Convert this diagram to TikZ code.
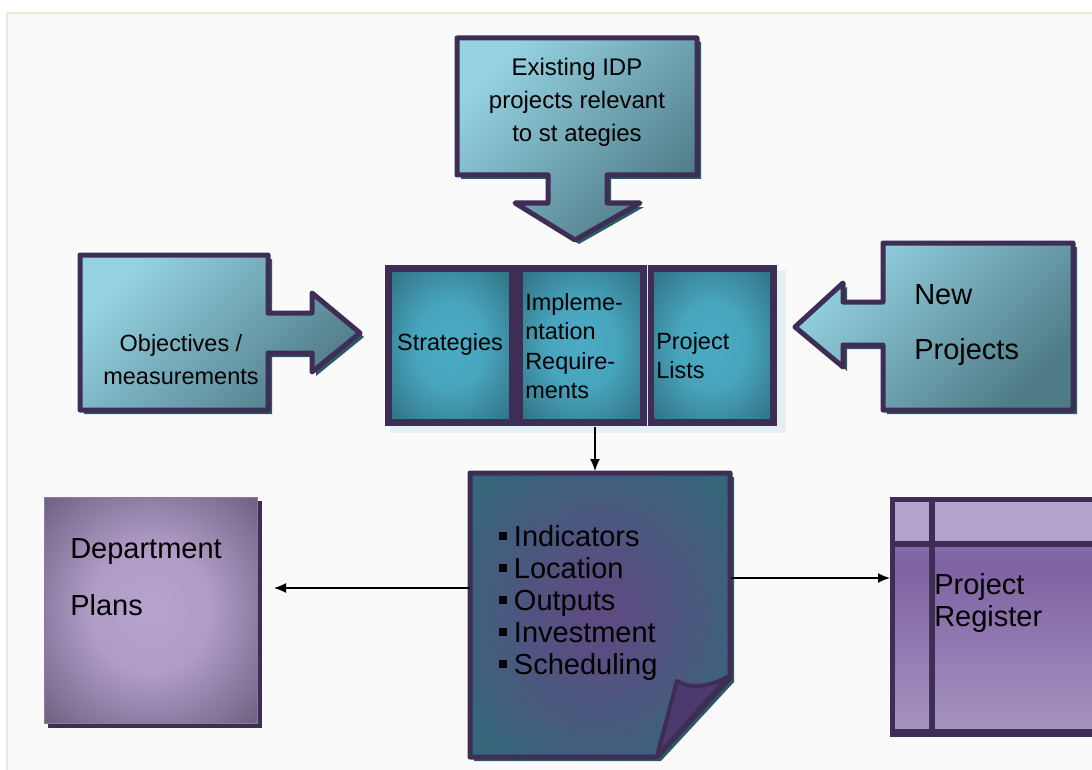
\documentclass[tikz,border=0pt]{standalone}
\usepackage{fontspec}
\setmainfont{Liberation Sans}
\usetikzlibrary{arrows.meta}
\definecolor{dpur}{HTML}{3E2D55}
\definecolor{arwL}{HTML}{95D2E2}
\definecolor{arwD}{HTML}{4F7B87}
\definecolor{shT}{HTML}{2B5A66}
\definecolor{cbIn}{HTML}{4AAAC4}
\definecolor{cbOut}{HTML}{2C6878}
\definecolor{dpIn}{HTML}{B5A2CE}
\definecolor{dpOut}{HTML}{6A5C7C}
\definecolor{docIn}{HTML}{5F4A82}
\definecolor{docOut}{HTML}{2F6A7A}
\definecolor{foldc}{HTML}{4C3A6E}
\definecolor{regL}{HTML}{B3A3CB}
\definecolor{regD}{HTML}{7E62A2}
\definecolor{frm}{HTML}{E6EBD8}
\definecolor{pale}{HTML}{E4EFF4}
\pgfdeclareradialshading[cbIn,cbOut]{pillowC}{\pgfpoint{0bp}{0bp}}{color(0bp)=(cbIn); color(14bp)=(cbIn!92!cbOut); color(38bp)=(cbOut); color(50bp)=(cbOut)}
\pgfdeclareradialshading[dpIn,dpOut]{pillowD}{\pgfpoint{0bp}{0bp}}{color(0bp)=(dpIn); color(14bp)=(dpIn!92!dpOut); color(37bp)=(dpOut); color(50bp)=(dpOut)}
\pgfdeclareradialshading[docIn,docOut]{pillowP}{\pgfpoint{0bp}{0bp}}{color(0bp)=(docIn); color(8bp)=(docIn!85!docOut); color(36bp)=(docOut); color(50bp)=(docOut)}
\pgfdeclareverticalshading[regL,regD]{regS}{100bp}{color(0bp)=(regL); color(25bp)=(regL!75!regD); color(70bp)=(regD); color(100bp)=(regL!80!regD)}
\newcommand\bulsq{\raisebox{4.6pt}{\rule{6pt}{6pt}}\hspace{5pt}}
\begin{document}
\begin{tikzpicture}[x=0.75pt,y=-0.75pt,
  outl/.style={draw=dpur, line width=3.75pt, line join=round},
  arwfill/.style={top color=arwL, bottom color=arwD, shading angle=45},
  shadowfill/.style={fill=shT},
  cbox/.style={draw=dpur, line width=5.25pt, shading=pillowC, inner sep=0pt, outer sep=0pt, minimum height=115.5pt},
  txtS/.style={inner sep=0pt, font=\fontsize{17.6}{24.75}\selectfont},
  txtL/.style={inner sep=0pt, font=\fontsize{21.75}{24}\selectfont},
  conn/.style={black, line width=1.1pt, -{Latex[length=9pt,width=7.5pt]}}]
\useasboundingbox (0,0) rectangle (1092,770);
\fill[white] (0,0) rectangle (1092,770);
\fill[white!98!black] (7,13) rectangle (1092,770);
\draw[frm, line width=1.5pt] (7,770) -- (7,13) -- (1092,13);

% ---------- top arrow ----------
\fill[shadowfill, shift={(4,4)}] (457,38) -- (697,38) -- (697,175) -- (607,175) -- (607,203) -- (640,203) -- (575,240) -- (515,203) -- (548,203) -- (548,175) -- (457,175) -- cycle;
\shade[arwfill] (457,38) -- (697,38) -- (697,175) -- (607,175) -- (607,203) -- (640,203) -- (575,240) -- (515,203) -- (548,203) -- (548,175) -- (457,175) -- cycle;
\draw[outl] (457,38) -- (697,38) -- (697,175) -- (607,175) -- (607,203) -- (640,203) -- (575,240) -- (515,203) -- (548,203) -- (548,175) -- (457,175) -- cycle;
\node[txtS, align=center, font=\fontsize{18}{24.75}\selectfont] (exist) at (577,102) {Existing IDP\\projects relevant\\to st ategies};

% ---------- left arrow ----------
\fill[shadowfill, shift={(4,4)}] (80,255) -- (268,255) -- (268,313) -- (312,313) -- (312,293) -- (360,333) -- (312,372) -- (312,353) -- (268,353) -- (268,410) -- (80,410) -- cycle;
\shade[arwfill] (80,255) -- (268,255) -- (268,313) -- (312,313) -- (312,293) -- (360,333) -- (312,372) -- (312,353) -- (268,353) -- (268,410) -- (80,410) -- cycle;
\draw[outl] (80,255) -- (268,255) -- (268,313) -- (312,313) -- (312,293) -- (360,333) -- (312,372) -- (312,353) -- (268,353) -- (268,410) -- (80,410) -- cycle;
\node[txtS, align=center] (obj) at (181,360) {Objectives /\\measurements};

% ---------- right arrow ----------
\fill[shadowfill, shift={(4,4)}] (883,243) -- (1073,243) -- (1073,410) -- (883,410) -- (883,345) -- (843,345) -- (843,367) -- (795,327) -- (843,283) -- (843,302) -- (883,302) -- cycle;
\shade[arwfill] (883,243) -- (1073,243) -- (1073,410) -- (883,410) -- (883,345) -- (843,345) -- (843,367) -- (795,327) -- (843,283) -- (843,302) -- (883,302) -- cycle;
\draw[outl] (883,243) -- (1073,243) -- (1073,410) -- (883,410) -- (883,345) -- (843,345) -- (843,367) -- (795,327) -- (843,283) -- (843,302) -- (883,302) -- cycle;
\node[txtL, anchor=west] (newA) at (914,295) {New};
\node[txtL, anchor=west] (newB) at (914,352) {Projects};

% ---------- centre boxes ----------
\fill[pale] (390,426) rectangle (786,433);
\fill[pale] (777,270) rectangle (786,433);
\node[cbox, minimum width=93pt] (strat) at (450.5,345.5) {};
\node[cbox, minimum width=93pt] (impl) at (581.5,345.5) {};
\node[cbox, minimum width=92.25pt] (plist) at (712,345.5) {};
\draw[white!80!cyan, line width=0.6pt] (647,265) -- (647,426);
\node[txtS] (stratT) at (450,344.5) {Strategies};
\node[txtS, anchor=west, align=left, font=\fontsize{17.6}{22.1}\selectfont] (implT) at (525,346) {Impleme-\\ntation\\Require-\\ments};
\node[txtS, anchor=west, align=left, font=\fontsize{17.6}{21.75}\selectfont] (plistT) at (656,355.5) {Project\\Lists};

% ---------- department plans ----------
\fill[dpur] (48,501) rectangle (262,728);
\shade[shading=pillowD, draw=dpOut!80!white, line width=0.6pt] (44,497) rectangle (257,723);
\node[txtL, anchor=west] (depA) at (70,552) {Department};
\node[txtL, anchor=west] (depB) at (70,605) {Plans};

% ---------- document ----------
\fill[shT, shift={(4,4)}] (470,473) -- (730,473) -- (730,678) -- (657,757) -- (470,757) -- cycle;
\shade[shading=pillowP] (470,473) -- (730,473) -- (730,678) -- (657,757) -- (470,757) -- cycle;
\draw[outl] (470,473) -- (730,473) -- (730,678) -- (657,757) -- (470,757) -- cycle;
\filldraw[fill=foldc, draw=dpur, line width=3pt, line join=round] (677,681) .. controls (692,690) and (712,686) .. (729,676) -- (657,756) -- cycle;
\node[txtL, anchor=west, align=left] (docT) at (499,603) {\bulsq Indicators\\\bulsq Location\\\bulsq Outputs\\\bulsq Investment\\\bulsq Scheduling};

% ---------- project register ----------
\fill[dpur] (890,497) rectangle (1100,737);
\fill[regL] (895,502) rectangle (929,541);
\fill[regL] (935,502) rectangle (1100,541);
\shade[shading=regS] (895,547) rectangle (929,728);
\shade[shading=regS] (935,547) rectangle (1100,728);
\node[txtL, anchor=west] (regA) at (934,587) {Project};
\node[txtL, anchor=west] (regB) at (934,619) {Register};

% ---------- connectors ----------
\coordinate (implS) at (595,427);
\coordinate (docN) at (595,471);
\coordinate (docW) at (470,588);
\coordinate (depE) at (274,588);
\coordinate (docE) at (731,578);
\coordinate (regW) at (890,578);
\draw[conn] (implS) -- (docN);
\draw[conn] (docW) -- (depE);
\draw[conn] (docE) -- (regW);
\end{tikzpicture}
\end{document}
